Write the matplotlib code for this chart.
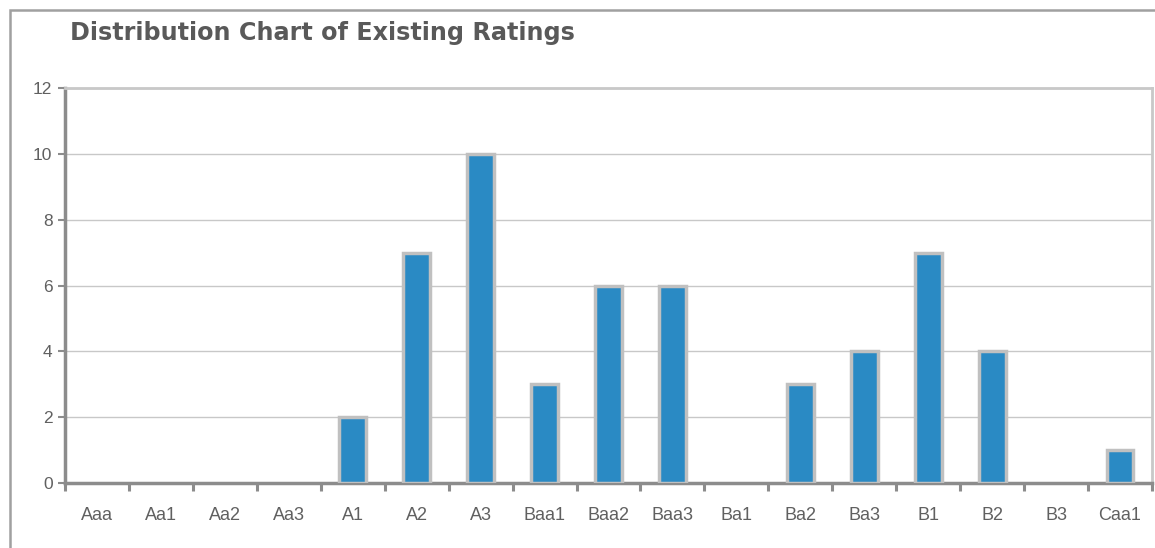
import matplotlib
matplotlib.use("Agg")
import matplotlib.pyplot as plt
from matplotlib.patches import Rectangle
from matplotlib.ticker import FixedLocator, NullFormatter

categories = ["Aaa", "Aa1", "Aa2", "Aa3", "A1", "A2", "A3", "Baa1", "Baa2", "Baa3",
              "Ba1", "Ba2", "Ba3", "B1", "B2", "B3", "Caa1"]
counts = [0, 0, 0, 0, 2, 7, 10, 3, 6, 6, 0, 3, 4, 7, 4, 0, 1]
yticks = [0, 2, 4, 6, 8, 10, 12]
title = "Distribution Chart of Existing Ratings"

W, H = 1155, 548
fig = plt.figure(figsize=(W / 100, H / 100), dpi=100)
fig.patch.set_facecolor("white")

# outer frame (only left and top visible)
fig.add_artist(Rectangle((10 / W, -0.1), 1.2, 1 - 10 / H + 0.1, transform=fig.transFigure,
                         fill=False, edgecolor="#a0a0a0", linewidth=1.8, zorder=0))

ax = fig.add_axes([65 / W, 1 - 483 / H, (1152 - 65) / W, (483 - 88) / H])
x = list(range(len(categories)))
nz = [(i, v) for i, v in zip(x, counts) if v > 0]
ax.bar([i for i, _ in nz], [v for _, v in nz], width=0.42, color="#2a8ac4",
       edgecolor="#c0c0c0", linewidth=2.5, zorder=3)

ax.set_xlim(-0.5, len(categories) - 0.5)
ax.set_ylim(0, 12)
ax.set_yticks(yticks)
ax.set_yticklabels([str(t) for t in yticks])
ax.yaxis.grid(True, color="#c8c8c8", linewidth=1.0, zorder=0)
ax.set_axisbelow(True)

ax.set_xticks(x)
ax.set_xticklabels(categories)
ax.xaxis.set_minor_locator(FixedLocator([i - 0.5 for i in range(len(categories) + 1)]))
ax.xaxis.set_minor_formatter(NullFormatter())
ax.tick_params(axis="x", which="major", length=0, pad=17, labelsize=13, labelcolor="#606060")
ax.tick_params(axis="x", which="minor", length=6, width=2.2, color="#8c8c8c", direction="out")
ax.tick_params(axis="y", length=5, width=1.5, color="#8c8c8c", direction="out",
               labelsize=12.5, labelcolor="#606060", pad=4)

for lab in ax.get_xticklabels() + ax.get_yticklabels():
    lab.set_family("Liberation Sans")

for s in ["left", "bottom"]:
    ax.spines[s].set_color("#8c8c8c")
    ax.spines[s].set_linewidth(2.5)
for s in ["right", "top"]:
    ax.spines[s].set_color("#c8c8c8")
    ax.spines[s].set_linewidth(2.0)

fig.text(70 / W, 1 - 33 / H, title, fontsize=17.2, fontweight="bold", color="#595959",
         family="DejaVu Sans", va="center", ha="left")

fig.savefig("out.png", dpi=100, facecolor="white")
